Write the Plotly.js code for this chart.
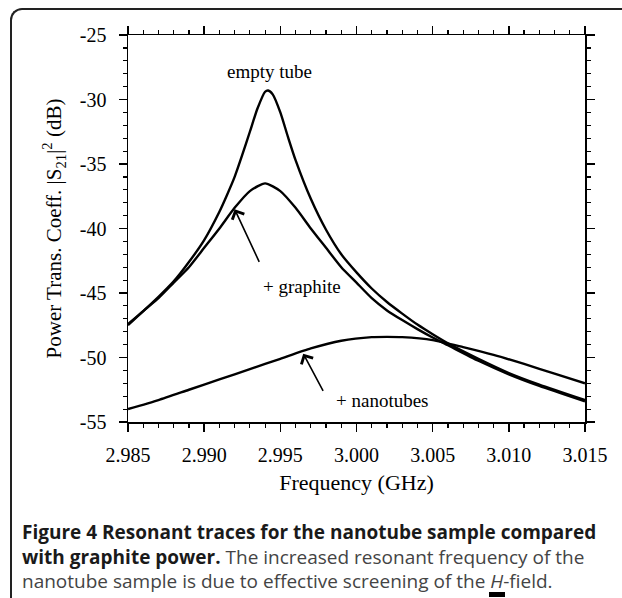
<!DOCTYPE html>
<html>
<head>
<meta charset="utf-8">
<script src="https://cdn.plot.ly/plotly-3.0.1.min.js"></script>
<style>
  html, body { margin: 0; padding: 0; background: #fff; }
  #wrap { position: relative; width: 622px; height: 598px; overflow: hidden; }
  #frame { position: absolute; left: 10px; top: 8px; width: 640px; height: 620px;
           border-left: 2px solid #222; border-top: 2px solid #222; border-top-left-radius: 12px; }
  #chart { position: absolute; left: 0; top: 0; width: 622px; height: 598px; }
</style>
</head>
<body>
<div id="wrap">
  <div id="frame"></div>
  <div id="chart"></div>
</div>
<script>
// Empty tube
const freqEmpty = [2.985, 2.986, 2.987, 2.988, 2.989, 2.990, 2.991, 2.9915, 2.992, 2.9925, 2.993, 2.9935, 2.994, 2.9942, 2.9945, 2.995, 2.9955, 2.996, 2.997, 2.998, 2.999, 3.000, 3.001, 3.002, 3.003, 3.004, 3.005, 3.006, 3.008, 3.010, 3.012, 3.015];
const dbEmpty   = [-47.4, -46.4, -45.3, -44.1, -42.6, -40.9, -38.7, -37.4, -36.0, -34.3, -32.5, -30.7, -29.4, -29.3, -29.6, -31.0, -32.9, -34.7, -37.7, -40.1, -42.0, -43.4, -44.65, -45.7, -46.6, -47.45, -48.2, -48.9, -50.1, -51.2, -52.1, -53.3];
// + graphite
const freqGraphite = [2.985, 2.986, 2.987, 2.988, 2.989, 2.990, 2.991, 2.992, 2.993, 2.994, 2.995, 2.996, 2.997, 2.998, 2.999, 3.000, 3.001, 3.002, 3.003, 3.004, 3.005, 3.006, 3.008, 3.010, 3.012, 3.015];
const dbGraphite   = [-47.5, -46.4, -45.4, -44.2, -43.0, -41.5, -40.0, -38.4, -37.1, -36.5, -37.1, -38.4, -40.0, -41.5, -43.0, -44.2, -45.4, -46.35, -47.1, -47.8, -48.45, -49.05, -50.25, -51.3, -52.2, -53.4];
// + nanotubes
const freqNano = [2.985, 2.987, 2.989, 2.991, 2.993, 2.995, 2.997, 2.999, 3.001, 3.002, 3.003, 3.005, 3.007, 3.009, 3.011, 3.013, 3.015];
const dbNano   = [-54.0, -53.3, -52.5, -51.7, -50.9, -50.1, -49.3, -48.7, -48.42, -48.4, -48.42, -48.65, -49.2, -49.8, -50.5, -51.25, -52.0];

const xTickVals = [2.985, 2.990, 2.995, 3.000, 3.005, 3.010, 3.015];
const xTickText = ['2.985', '2.990', '2.995', '3.000', '3.005', '3.010', '3.015'];
const yTickVals = [-25, -30, -35, -40, -45, -50, -55];
const yTickText = ['-25', '-30', '-35', '-40', '-45', '-50', '-55'];

const serif = 'Liberation Serif, Times New Roman, serif';
const sans = 'Open Sans, Noto Sans, sans-serif';
const lineStyle = {color: '#000', width: 2.4, shape: 'spline', smoothing: 0.6};

const traces = [
  {x: freqEmpty, y: dbEmpty, mode: 'lines', line: lineStyle, name: 'empty tube', hoverinfo: 'skip'},
  {x: freqGraphite, y: dbGraphite, mode: 'lines', line: lineStyle, name: '+ graphite', hoverinfo: 'skip'},
  {x: freqNano, y: dbNano, mode: 'lines', line: lineStyle, name: '+ nanotubes', hoverinfo: 'skip'}
];

const axisCommon = {
  showgrid: false, zeroline: false, showline: true, linecolor: '#000', linewidth: 1.5,
  mirror: 'ticks', ticks: 'outside', ticklen: 8, tickwidth: 1.5, tickcolor: '#000',
  tickfont: {family: serif, size: 20, color: '#000'}
};

// pixel -> paper helpers (plot area: x 128..585, y 35..422)
const px = v => (v - 128) / 457;
const py = v => (422 - v) / 387;

const layout = {
  width: 622, height: 598,
  margin: {l: 128, r: 37, t: 35, b: 176},
  paper_bgcolor: 'rgba(0,0,0,0)', plot_bgcolor: 'rgba(0,0,0,0)',
  showlegend: false,
  xaxis: Object.assign({}, axisCommon, {
    range: [2.985, 3.015], tickmode: 'array', tickvals: xTickVals, ticktext: xTickText,
    ticklabelstandoff: 6,
    minor: {tick0: 2.985, dtick: 0.001, ticklen: 4, tickwidth: 1.2, tickcolor: '#000', ticks: 'outside'},
    title: {text: 'Frequency (GHz)', font: {family: serif, size: 22, color: '#000'}, standoff: 10}
  }),
  yaxis: Object.assign({}, axisCommon, {
    range: [-55, -25], tickmode: 'array', tickvals: yTickVals, ticktext: yTickText,
    ticklabelstandoff: 8,
    minor: {tick0: -55, dtick: 1, ticklen: 4, tickwidth: 1.2, tickcolor: '#000', ticks: 'outside'},
    title: {text: 'Power Trans. Coeff. |S<sub>21</sub>|<sup>2</sup> (dB)', font: {family: serif, size: 21, color: '#000'}, standoff: 12}
  }),
  shapes: [
    {type: 'rect', xref: 'paper', yref: 'paper', x0: px(489), x1: px(505), y0: py(592), y1: py(597),
     fillcolor: '#000', line: {width: 0}}
  ],
  annotations: [
    {x: 2.9943, y: -27.8, xref: 'x', yref: 'y', text: 'empty tube', showarrow: false,
     font: {family: serif, size: 19, color: '#000'}},
    {x: 2.9964, y: -44.5, xref: 'x', yref: 'y', text: '+ graphite', showarrow: false,
     font: {family: serif, size: 19, color: '#000'}},
    {x: 3.0017, y: -53.3, xref: 'x', yref: 'y', text: '+ nanotubes', showarrow: false,
     font: {family: serif, size: 19, color: '#000'}},
    {x: 2.9920, y: -38.5, ax: 2.99366, ay: -42.7, xref: 'x', yref: 'y', axref: 'x', ayref: 'y',
     text: '', showarrow: true, arrowhead: 4, arrowsize: 1.6, arrowwidth: 1.6, arrowcolor: '#000'},
    {x: 2.9965, y: -49.7, ax: 2.99786, ay: -52.7, xref: 'x', yref: 'y', axref: 'x', ayref: 'y',
     text: '', showarrow: true, arrowhead: 4, arrowsize: 1.6, arrowwidth: 1.6, arrowcolor: '#000'},
    {x: px(20), y: py(556), xref: 'paper', yref: 'paper', xanchor: 'left', yanchor: 'middle',
     align: 'left', showarrow: false,
     text: '<b><span style="color:#1a1a1a">Figure 4 Resonant traces for the nanotube sample compared</span></b><br>' +
           '<b><span style="color:#1a1a1a">with graphite power.</span></b> The increased resonant frequency of the<br>' +
           'nanotube sample is due to effective screening of the <i>H</i>-field.',
     font: {family: sans, size: 19, color: '#444'}}
  ]
};

Plotly.newPlot('chart', traces, layout, {staticPlot: true, displayModeBar: false});
</script>
</body>
</html>
